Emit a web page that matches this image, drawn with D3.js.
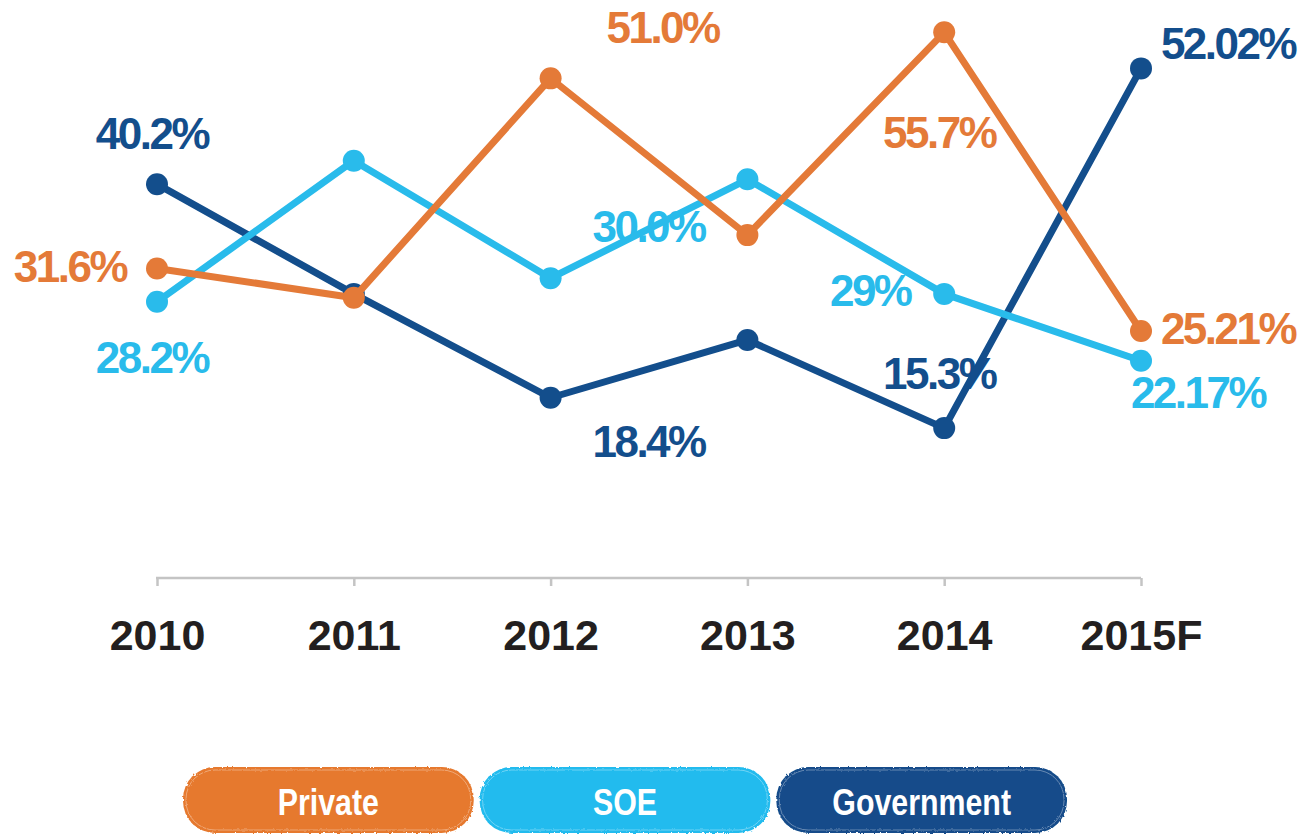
<!DOCTYPE html>
<html>
<head>
<meta charset="utf-8">
<script src="https://cdn.jsdelivr.net/npm/d3@7"></script>
<style>
  body { margin: 0; background: #fff; }
  svg { display: block; }
  .val { font-family: "Liberation Sans", Arial, sans-serif; font-weight: 700; font-size: 44px; letter-spacing: -2.5px; }
  .year { font-family: "Liberation Sans", Arial, sans-serif; font-weight: 700; font-size: 43px; fill: #231f20; }
  .leg { font-family: "Liberation Sans", Arial, sans-serif; font-weight: 700; font-size: 37px; fill: #fff; }
</style>
</head>
<body>
<svg width="1312" height="836"></svg>
<script>
// data
var years = ["2010", "2011", "2012", "2013", "2014", "2015F"];
var government = [40.2, 29.0, 18.4, 24.3, 15.3, 52.02];
var soe = [28.2, 42.6, 30.6, 40.7, 29.0, 22.17];
var priv = [31.6, 28.6, 51.0, 35.0, 55.7, 25.21];

var govLabels = ["40.2%", null, "18.4%", null, "15.3%", "52.02%"];
var soeLabels = ["28.2%", null, "30.0%", null, "29%", "22.17%"];
var privLabels = ["31.6%", null, "51.0%", null, "55.7%", "25.21%"];

var legendNames = ["Private", "SOE", "Government"];

// label placement (offset from the point)
var govOffsets = [[-5, -35], null, [98, 59], null, [-5, -39], [87, -9]];
var soeOffsets = [[-5, 71], null, [98, -36], null, [-74, 12], [57, 47]];
var privOffsets = [[-87, 14], null, [112, -35], null, [-5, 116], [87, 13]];

var series = [
  { name: "Government", values: government, labels: govLabels, offsets: govOffsets, color: "#134e8c" },
  { name: "SOE", values: soe, labels: soeLabels, offsets: soeOffsets, color: "#29bbeb" },
  { name: "Private", values: priv, labels: privLabels, offsets: privOffsets, color: "#e47a38" }
];
var legendColors = { "Private": "#e6792e", "SOE": "#20bbee", "Government": "#124c8a" };

var svg = d3.select("svg");

var x = d3.scalePoint().domain(years).range([157, 1141]);
var y = d3.scaleLinear().domain([0, 59]).range([578, 0]);

// rough edge filter for the legend pills
var defs = svg.append("defs");
var f = defs.append("filter").attr("id", "rough").attr("x", "-5%").attr("y", "-10%").attr("width", "110%").attr("height", "120%");
f.append("feTurbulence").attr("type", "fractalNoise").attr("baseFrequency", 0.35).attr("numOctaves", 2).attr("result", "noise");
f.append("feDisplacementMap").attr("in", "SourceGraphic").attr("in2", "noise").attr("scale", 3);

// x axis
var axis = d3.axisBottom(x).tickSize(8).tickSizeOuter(0).tickPadding(23);
var gAxis = svg.append("g").attr("transform", "translate(0,578)").call(axis);
gAxis.select(".domain").attr("stroke", "#c4c4c4").attr("stroke-width", 2.5).attr("d", "M156,0H1141");
gAxis.selectAll(".tick line").attr("stroke", "#c4c4c4").attr("stroke-width", 2.5);
gAxis.selectAll(".tick text").attr("class", "year").attr("fill", null).attr("dy", "0.95em");

// value labels (under lines)
series.forEach(function(s) {
  var pts = years.map(function(yr, i) { return { year: yr, value: s.values[i], label: s.labels[i], off: s.offsets[i] }; })
    .filter(function(d) { return d.label; });
  svg.append("g").selectAll("text")
    .data(pts)
    .enter()
    .append("text")
      .attr("class", "val")
      .attr("fill", s.color)
      .attr("text-anchor", "middle")
      .attr("x", function(d) { return x(d.year) + d.off[0]; })
      .attr("y", function(d) { return y(d.value) + d.off[1]; })
      .text(function(d) { return d.label; });
});

// lines + dots
var line = d3.line()
  .x(function(d, i) { return x(years[i]); })
  .y(function(d) { return y(d); });

series.forEach(function(s) {
  var g = svg.append("g");
  g.append("path")
    .attr("d", line(s.values))
    .attr("fill", "none")
    .attr("stroke", s.color)
    .attr("stroke-width", 7)
    .attr("stroke-linejoin", "round");
  g.selectAll("circle")
    .data(s.values)
    .enter()
    .append("circle")
      .attr("cx", function(d, i) { return x(years[i]); })
      .attr("cy", function(d) { return y(d); })
      .attr("r", 11)
      .attr("fill", s.color);
});

// legend pills
var legX = d3.scaleBand().domain(legendNames).range([183, 1067]).paddingInner(0.02);
var leg = svg.append("g").selectAll("g")
  .data(legendNames)
  .enter()
  .append("g")
    .attr("transform", function(d) { return "translate(" + legX(d) + ",767)"; });

leg.append("rect")
  .attr("width", legX.bandwidth())
  .attr("height", 66)
  .attr("rx", 32)
  .attr("fill", function(d) { return legendColors[d]; })
  .attr("filter", "url(#rough)");
leg.append("rect")
  .attr("x", 3).attr("y", 3)
  .attr("width", legX.bandwidth() - 6)
  .attr("height", 60)
  .attr("rx", 29)
  .attr("fill", "none")
  .attr("stroke", "rgba(255,255,255,0.35)")
  .attr("stroke-width", 1)
  .attr("filter", "url(#rough)");
// condensed look: squeeze the text horizontally
leg.append("text")
  .attr("class", "leg")
  .attr("transform", "translate(" + (legX.bandwidth() / 2) + ",48) scale(0.82,1)")
  .attr("text-anchor", "middle")
  .text(function(d) { return d; });
</script>
</body>
</html>
